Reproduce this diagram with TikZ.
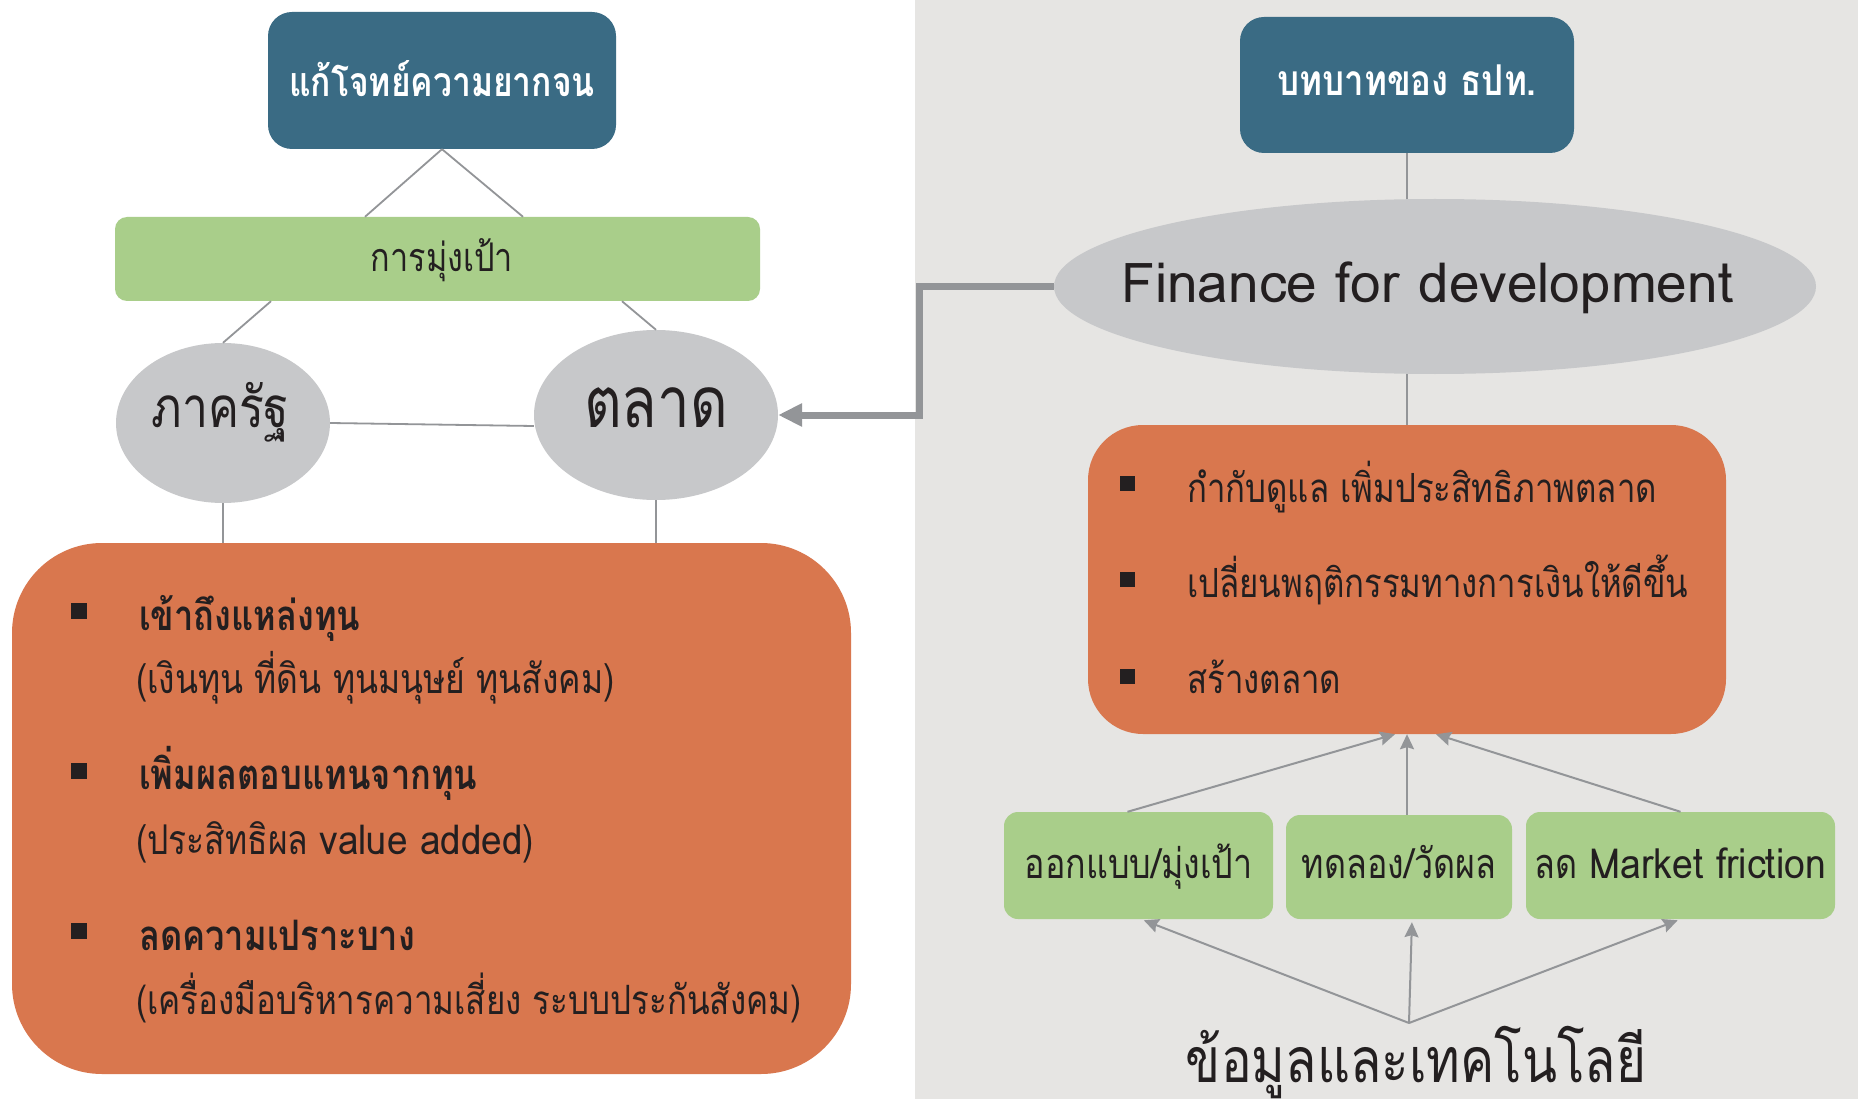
\documentclass[tikz,border=0pt]{standalone}
\usepackage{fontspec}
\newfontfamily\thaifont[Script=Thai,FakeStretch=0.82]{Loma}
\newfontfamily\latinmix[Script=Thai,FakeStretch=0.9]{Loma}
\newfontfamily\latinwide[Script=Thai]{Loma}
\usetikzlibrary{shapes.geometric,arrows.meta}
\definecolor{cTeal}{HTML}{3A6B84}
\definecolor{cGreen}{HTML}{A9CE8A}
\definecolor{cOrange}{HTML}{D9774E}
\definecolor{cEll}{HTML}{C7C8CA}
\definecolor{cPanel}{HTML}{E6E5E3}
\definecolor{cLine}{HTML}{939598}
\definecolor{cTxt}{HTML}{231F20}
\newcommand\fsz[1]{\fontsize{#1}{#1}\selectfont}
\tikzset{
  titlebox/.style={fill=cTeal, text=white, rounded corners=24pt, inner sep=0pt, text depth=0pt, font=\thaifont\bfseries\fsz{41}},
  greenbox/.style={fill=cGreen, text=cTxt, rounded corners=14pt, inner sep=0pt, text depth=0pt, font=\thaifont\fsz{41.5}},
  grayell/.style={ellipse, fill=cEll, text=cTxt, inner sep=0pt, text depth=0pt},
  orangebox/.style={fill=cOrange, inner sep=0pt},
  bulletsq/.style={fill=cTxt, minimum width=16pt, minimum height=16pt, inner sep=0pt},
  itemtext/.style={anchor=base west, inner sep=0pt, text=cTxt, font=\thaifont\fsz{41}},
  itemhead/.style={itemtext, font=\thaifont\bfseries\fsz{42}},
  roletext/.style={anchor=base west, inner sep=0pt, text=cTxt, font=\thaifont\fsz{40.2}},
  thinline/.style={draw=cLine, line width=1.8pt},
  thinarrow/.style={draw=cLine, line width=2pt, -{Stealth[length=15pt,width=14pt,inset=2pt]}},
  thickarrow/.style={draw=cLine, line width=7pt, line join=miter, -{Triangle[length=24pt,width=22pt]}},
}
\begin{document}
\begin{tikzpicture}[x=1pt,y=-1pt]
\useasboundingbox (0,0) rectangle (1858,1099);
\fill[white] (0,0) rectangle (915,1099);
\fill[cPanel] (915,0) rectangle (1858,1099);

% ---------- left side ----------
\node[titlebox, minimum width=348pt, minimum height=137pt, text height=32pt] (goal) at (442,80.5) {แก้โจทย์ความยากจน};
\node[greenbox, rounded corners=12pt, minimum width=645pt, minimum height=84pt, text height=26pt, font=\thaifont\fsz{39.5}] (target) at (437.5,259) {\hspace*{9pt}การมุ่งเป้า};
\node[grayell, minimum width=214pt, minimum height=160pt, text height=9pt, font=\thaifont\fsz{56.5}] (gov) at (223,423) {ภาครัฐ\hspace*{5pt}};
\node[grayell, minimum width=244pt, minimum height=170pt, text height=25pt, font=\thaifont\fsz{71}] (mkt) at (656,415) {ตลาด};
\node[orangebox, rounded corners=90pt, minimum width=839pt, minimum height=531pt] (poor) at (431.5,808.5) {};

\draw[thinline] (goal.south) -- ([xshift=-72.5pt]target.north);
\draw[thinline] (goal.south) -- ([xshift=85.5pt]target.north);
\draw[thinline] ([xshift=-166.5pt]target.south) -- (gov.north);
\draw[thinline] ([xshift=184.5pt]target.south) -- (mkt.north);
\draw[thinline] (gov.east) -- ([yshift=-11pt]mkt.west);
\draw[thinline] (gov.south) -- (gov.south |- poor.north);
\draw[thinline] (mkt.south) -- (mkt.south |- poor.north);

\node[bulletsq] (b1) at (79,611) {};
\node[bulletsq] (b2) at (79,771) {};
\node[bulletsq] (b3) at (79,931) {};
\node[itemhead] (i1) at (139,630) {เข้าถึงแหล่งทุน};
\node[itemtext] (i1s) at (136,693) {(เงินทุน ที่ดิน ทุนมนุษย์ ทุนสังคม)};
\node[itemhead] (i2) at (139,789.6) {เพิ่มผลตอบแทนจากทุน};
\node[itemtext] (i2s) at (136,854) {(ประสิทธิผล {\latinmix value added})};
\node[itemhead] (i3) at (139,950) {ลดความเปราะบาง};
\node[itemtext, font=\thaifont\fsz{40.4}] (i3s) at (136,1014.6) {(เครื่องมือบริหารความเสี่ยง ระบบประกันสังคม)};

% ---------- right side ----------
\node[titlebox, minimum width=334pt, minimum height=136pt, text height=21pt, font=\thaifont\bfseries\fsz{42.5}] (role) at (1407,85) {บทบาทของ ธปท.};
\node[grayell, minimum width=762pt, minimum height=175pt] (fin) at (1435,286.5) {};
\node[anchor=base, inner sep=0pt, text=cTxt, font=\latinwide\fsz{55}] (fintext) at (1427.5,302.6) {Finance for development};
\node[orangebox, rounded corners=55pt, minimum width=638pt, minimum height=309pt] (roleitems) at (1407,579.5) {};

\node[bulletsq, minimum width=15pt, minimum height=15pt] (r1) at (1127,483) {};
\node[bulletsq, minimum width=15pt, minimum height=15pt] (r2) at (1127,579) {};
\node[bulletsq, minimum width=15pt, minimum height=15pt] (r3) at (1127,676) {};
\node[roletext] (t1) at (1187,502) {กำกับดูแล เพิ่มประสิทธิภาพตลาด};
\node[roletext] (t2) at (1187,597) {เปลี่ยนพฤติกรรมทางการเงินให้ดีขึ้น};
\node[roletext] (t3) at (1187,693) {สร้างตลาด};

\node[greenbox, minimum width=269pt, minimum height=107pt, text height=25pt] (design) at (1138.5,865.5) {ออกแบบ/มุ่งเป้า};
\node[greenbox, minimum width=226pt, minimum height=104pt, text height=22pt] (test) at (1399,867) {ทดลอง/วัดผล};
\node[greenbox, minimum width=309pt, minimum height=107pt, text height=25pt] (friction) at (1680.5,865.5) {ลด {\latinmix Market friction}};

\node[anchor=base, inner sep=0pt, text=cTxt, font=\thaifont\fsz{62.5}] (data) at (1416,1082) {ข้อมูลและเทคโนโลยี};
\coordinate (dsrc) at (1409,1023);

\draw[thinline] (role.south) -- (role.south |- fin.north);
\draw[thinline] (role.south |- fin.south) -- (roleitems.north);

\draw[thinarrow] ([xshift=-11pt]design.north) -- ([xshift=-12pt]roleitems.south);
\draw[thinarrow] ([xshift=8pt]test.north) -- (roleitems.south);
\draw[thinarrow] (friction.north) -- ([xshift=29pt]roleitems.south);

\draw[thinarrow, shorten >=3pt] (dsrc) -- ([xshift=2.5pt]design.south);
\draw[thinarrow, shorten >=3pt] (dsrc) -- ([xshift=13pt]test.south);
\draw[thinarrow, shorten >=3pt] (dsrc) -- (friction.south);

% ---------- link ----------
\coordinate (bend) at (919,0);
\draw[thickarrow] (fin.west) -- (fin.west -| bend) -- (bend |- mkt.east) -- (mkt.east);
\end{tikzpicture}
\end{document}
